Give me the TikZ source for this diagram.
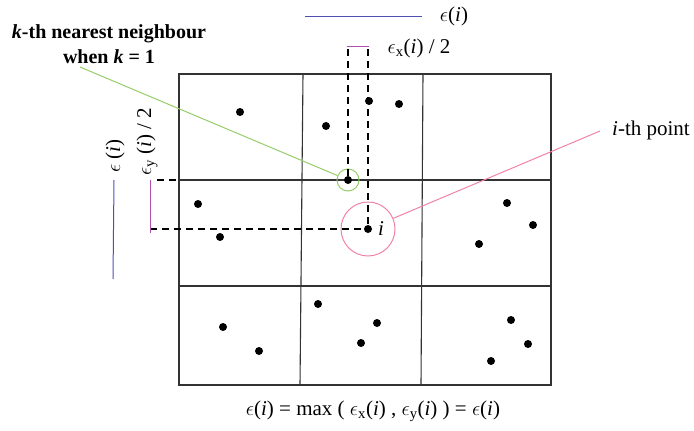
\documentclass[tikz,border=0pt]{standalone}
\usepackage{fontspec}
\setmainfont{Liberation Serif}
\definecolor{epsblue}{RGB}{80,80,180}
\definecolor{halfmag}{RGB}{176,80,176}
\definecolor{nbgreen}{RGB}{150,205,105}
\definecolor{ptpink}{RGB}{240,130,170}
\newcommand{\eps}{$\epsilon$}
\begin{document}
\begin{tikzpicture}[x=1pt,y=-1pt,
 lbl/.style={font=\fontsize{21}{24}\selectfont, inner sep=0pt},
 dot/.style={circle,fill=black,inner sep=0pt,minimum size=8pt},
 gridline/.style={line width=1.1pt, draw=black!80},
 dashline/.style={dash pattern=on 7pt off 5pt, line width=1.3pt},
 epsline/.style={draw=epsblue, line width=1pt},
 halfline/.style={draw=halfmag, line width=1pt},
]
\useasboundingbox (0,0) rectangle (694,431);
% grid
\draw[gridline] (179,74) rectangle (551,385);
\draw[gridline] (303,74) -- (300,385);
\draw[gridline] (423,74) -- (421,385);
\draw[gridline] (179,180) -- (551,180);
\draw[gridline] (179,286) -- (551,286);
% dots
\node[dot] (p1) at (240,112) {};
\node[dot] (p2) at (326,126) {};
\node[dot] (p3) at (369,101) {};
\node[dot] (p4) at (399,104) {};
\node[dot] (p5) at (198,204) {};
\node[dot] (p6) at (220,237) {};
\node[dot] (p7) at (507,203) {};
\node[dot] (p8) at (533,225) {};
\node[dot] (p9) at (479,244) {};
\node[dot] (p10) at (223,327) {};
\node[dot] (p11) at (259,351) {};
\node[dot] (p12) at (318,304) {};
\node[dot] (p13) at (377,323) {};
\node[dot] (p14) at (361,343) {};
\node[dot] (p15) at (511,320) {};
\node[dot] (p16) at (528,344) {};
\node[dot] (p17) at (491,361) {};
\node[dot] (nb) at (348,180) {};
\node[dot] (pi) at (368,229) {};
\node[circle, draw=nbgreen, line width=1pt, minimum size=22pt, inner sep=0pt] (nbc) at (348,180) {};
\node[circle, draw=ptpink, line width=1pt, minimum size=54pt, inner sep=0pt] (pic) at (368,229) {};
\node[lbl, anchor=west] (ilab) at (378,229) {\textit{i}};
% dashed guides
\coordinate (tx1) at (348,49);
\coordinate (tx2) at (368,49);
\draw[dashline] (tx1) -- (nb);
\draw[dashline] (tx2) -- (pi);
\coordinate (ly1) at (157,180);
\coordinate (ly1e) at (179,180);
\coordinate (ly2) at (150,229);
\draw[dashline] (ly1) -- (ly1e);
\draw[dashline] (ly2) -- (pi);
% half-width bars
\coordinate (hx1) at (347,46.5);
\coordinate (hx2) at (369,46.5);
\draw[halfline] (hx1) -- (hx2);
\coordinate (hy1) at (150,180);
\coordinate (hy2) at (150,233);
\draw[halfline] (hy1) -- (hy2);
% eps bars
\coordinate (ex1) at (305,16);
\coordinate (ex2) at (422,16);
\draw[epsline] (ex1) -- (ex2);
\coordinate (ey1) at (114,180);
\coordinate (ey2) at (113,279);
\draw[epsline] (ey1) -- (ey2);
% labels
\node[lbl] (epstop) at (454,16) {\eps(\textit{i})};
\node[lbl] (epsxlab) at (419,48) {\eps\textsubscript{x}(\textit{i}) / 2};
\node[lbl, rotate=90] (epsleft) at (115,156) {\eps\ (\textit{i})};
\node[lbl, rotate=90] (epsylab) at (147,142) {\eps\textsubscript{y} (\textit{i}) / 2};
\node[lbl, font=\fontsize{20}{25}\selectfont\bfseries, align=center] (nblab) at (109,44) {\textit{k}-th nearest neighbour\\when \textit{k} = 1};
\node[lbl, anchor=west] (ptlab) at (612,130) {\textit{i}-th point};
\node[lbl] (formula) at (373,411) {\eps(\textit{i}) = max ( \eps\textsubscript{x}(\textit{i}) , \eps\textsubscript{y}(\textit{i}) ) = \eps(\textit{i})};
% connectors
\coordinate (gstart) at (80,67);
\draw[nbgreen, line width=1pt] (gstart) -- (nbc);
\coordinate (pstart) at (600,131);
\draw[ptpink, line width=1pt] (pstart) -- (pic);
\end{tikzpicture}
\end{document}
